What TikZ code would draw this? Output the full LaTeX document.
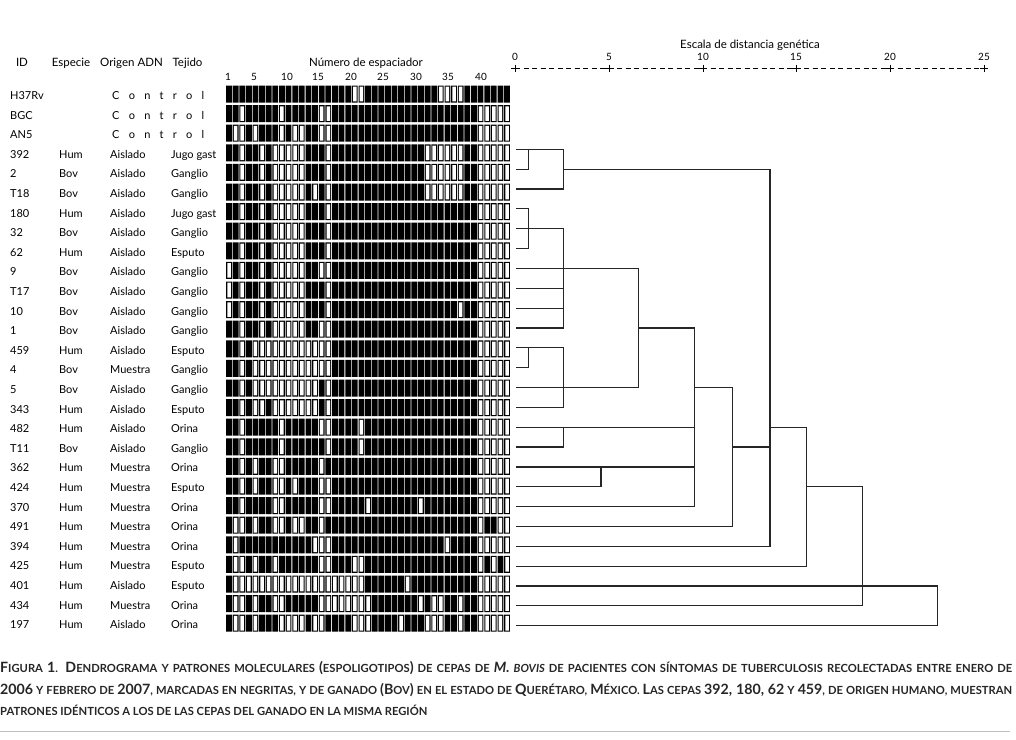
\documentclass[tikz,border=0pt]{standalone}
\usepackage{fontspec}
\setmainfont{Lato}
\newcommand\sprow[2]{%
  \fill[black] \foreach \k in {1,...,43} {({229+6.62*(\k-1)-2.9},{94+19.6*#1-8.5}) rectangle ++(5.8,17)};
  \fill[white] \foreach \k in {#2} {({229+6.62*(\k-1)-1.75},{94+19.6*#1-7.3}) rectangle ++(3.5,14.6)};
}
\newcommand\Bc[1]{{\fontsize{14.2}{15}\selectfont #1}}
\begin{document}
\begin{tikzpicture}[x=1pt,y=-1pt,
  lab/.style={font=\fontsize{11}{12}\selectfont, anchor=base west, inner sep=0},
  hdr/.style={font=\fontsize{11.5}{12}\selectfont, anchor=base, inner sep=0},
  num/.style={font=\fontsize{10}{11}\selectfont, anchor=base, inner sep=0},
  captxt/.style={font=\fontsize{11.2}{12}\selectfont\bfseries, anchor=base west, inner sep=0, text=black!85},
  dend/.style={line width=1.2pt, draw=black!85}]
\useasboundingbox (0,0) rectangle (1016,739);
% headers
\node[hdr] (hID) at (22,66) {ID};
\node[hdr] (hEsp) at (71,66) {Especie};
\node[hdr] (hOri) at (131.5,66) {Origen ADN};
\node[hdr] (hTej) at (187.5,66) {Tejido};
\node[hdr] (hNum) at (366,66) {Número de espaciador};
\foreach \n/\x in {1/228,5/254,10/287,15/318,20/351,25/383,30/416,35/448,40/481}
  \node[num] (sn\n) at (\x,80) {\n};
% scale
\node[hdr] (hEsc) at (750,48) {Escala de distancia genética};
\draw[line width=0.9pt, dash pattern=on 5pt off 3.5pt] (515,68) -- (984,68);
\foreach \v/\x in {0/515,5/609,10/703,15/796,20/890,25/984} {
  \node[num] (sc\v) at (\x,60) {\v};
  \draw[line width=1pt] (\x-4,68) -- (\x+4,68) (\x,64.5) -- (\x,71.5);
}
% control rows
\foreach \i/\id in {0/H37Rv,1/BGC,2/AN5} {
  \node[lab] (id\i) at (10,{95+19.6*\i+4.5}) {\id};
  \node[lab] (ct\i) at (112,{95+19.6*\i+4.5}) {\makebox[92pt][s]{C o n t r o l}};
}
% data rows
\foreach \i/\id/\sp/\org/\tej in {
  3/392/Hum/Aislado/Jugo gast, 4/2/Bov/Aislado/Ganglio, 5/T18/Bov/Aislado/Ganglio,
  6/180/Hum/Aislado/Jugo gast, 7/32/Bov/Aislado/Ganglio, 8/62/Hum/Aislado/Esputo,
  9/9/Bov/Aislado/Ganglio, 10/T17/Bov/Aislado/Ganglio, 11/10/Bov/Aislado/Ganglio,
  12/1/Bov/Aislado/Ganglio, 13/459/Hum/Aislado/Esputo, 14/4/Bov/Muestra/Ganglio,
  15/5/Bov/Aislado/Ganglio, 16/343/Hum/Aislado/Esputo, 17/482/Hum/Aislado/Orina,
  18/T11/Bov/Aislado/Ganglio, 19/362/Hum/Muestra/Orina, 20/424/Hum/Muestra/Esputo,
  21/370/Hum/Muestra/Orina, 22/491/Hum/Muestra/Orina, 23/394/Hum/Muestra/Orina,
  24/425/Hum/Muestra/Esputo, 25/401/Hum/Aislado/Esputo, 26/434/Hum/Muestra/Orina,
  27/197/Hum/Aislado/Orina} {
  \node[lab] (id\i) at (10,{95+19.6*\i+4.5}) {\id};
  \node[lab] (es\i) at (59,{95+19.6*\i+4.5}) {\sp};
  \node[lab] (or\i) at (110,{95+19.6*\i+4.5}) {\org};
  \node[lab] (tj\i) at (171,{95+19.6*\i+4.5}) {\tej};
}
% spoligotypes
\sprow{0}{20,21,33,34,35,36}
\sprow{1}{3,9,15,16,39,40,41,42,43}
\sprow{2}{2,3,5,9,11,12,15,16,39,40,41,42,43}
\sprow{3}{3,6,8,9,10,11,12,16,31,32,33,34,35,36,39,40,41,42,43}
\sprow{4}{3,6,8,9,10,11,12,16,31,32,33,34,35,36,39,40,41,42,43}
\sprow{5}{3,6,8,9,10,11,12,14,16,31,32,33,34,35,36,39,40,41,42,43}
\sprow{6}{3,6,8,9,10,11,12,16,39,40,41,42,43}
\sprow{7}{3,6,8,9,10,11,12,16,39,40,41,42,43}
\sprow{8}{3,6,8,9,10,11,12,16,39,40,41,42,43}
\sprow{9}{1,3,6,8,9,10,11,12,15,16,39,40,41,42,43}
\sprow{10}{1,3,6,8,9,10,11,12,16,39,40,41,42,43}
\sprow{11}{1,3,6,8,9,10,11,12,16,36,39,40,41,42,43}
\sprow{12}{3,6,8,9,10,11,12,15,16,39,40,41,42,43}
\sprow{13}{3,5,6,7,8,9,10,11,12,13,14,15,16,39,40,41,42,43}
\sprow{14}{3,5,6,7,8,9,10,11,12,13,14,15,16,39,40,41,42,43}
\sprow{15}{3,5,6,7,8,9,10,11,12,13,14,16,39,40,41,42,43}
\sprow{16}{3,5,6,8,9,10,11,12,13,14,16,39,40,41,42,43}
\sprow{17}{3,9,15,16,21,39,40,41,42,43}
\sprow{18}{3,9,16,21,39,40,41,42,43}
\sprow{19}{3,5,8,9,15,39,40,41,42,43}
\sprow{20}{3,5,8,9,11,15,16,39,40,41,42,43}
\sprow{21}{3,8,9,15,16,22,30,39,40,41,42,43}
\sprow{22}{2,3,5,8,9,11,12,15,39,42,43}
\sprow{23}{2,14,15,16,34,39,40,41,42,43}
\sprow{24}{2,3,5,8,15,16,20,21,39,41,43}
\sprow{25}{2,3,4,5,6,7,8,9,10,11,12,13,14,15,16,17,18,19,20,21,28,39,40,41,42,43}
\sprow{26}{2,3,5,8,9,15,16,17,18,19,20,21,22,30,32,33,36,39,40,41,42,43}
\sprow{27}{2,3,5,9,10,11,12,14,15,20,21,22,27,31,32,33,36,39,40,41,42,43}
% dendrogram
\foreach \j in {1,...,25} \coordinate (L\j) at (516,{149.3+19.85*(\j-1)});
\coordinate (xa) at (528.3,0); \coordinate (xb) at (563.7,0);
\coordinate (xc) at (601,0);   \coordinate (xd) at (638.7,0);
\coordinate (xe) at (694.7,0); \coordinate (xf) at (732.7,0);
\coordinate (xg) at (770,0);   \coordinate (xh) at (806.7,0);
\coordinate (xi) at (862.7,0); \coordinate (xk) at (937.7,0);
\draw[dend] (L1) -- (L1 -| xb);
\draw[dend] (L1 -| xa) -- (L2 -| xa) -- (L2);
\draw[dend] (L1 -| xb) -- (L3 -| xb) -- (L3);
\draw[dend] (L2 -| xb) -- (L2 -| xg);
\draw[dend] (L4) -| (L6 -| xa) -- (L6);
\draw[dend] (L5) -- (L5 -| xb);
\draw[dend] (L5 -| xb) -- (L10 -| xb) -- (L10);
\draw[dend] (L7) -- (L7 -| xd);
\draw[dend] (L8) -- (L8 -| xb);
\draw[dend] (L9) -- (L9 -| xb);
\draw[dend] (L11) -- (L11 -| xb);
\draw[dend] (L11 -| xa) -- (L12 -| xa) -- (L12);
\draw[dend] (L11 -| xb) -- (L14 -| xb) -- (L14);
\draw[dend] (L13) -- (L13 -| xd);
\draw[dend] (L7 -| xd) -- (L13 -| xd);
\draw[dend] (L10 -| xd) -- (L10 -| xe);
\draw[dend] (L15) -- (L15 -| xe);
\draw[dend] (L15 -| xb) -- (L16 -| xb) -- (L16);
\draw[dend] (L17) -- (L17 -| xe);
\draw[dend] (L17 -| xc) -- (L18 -| xc) -- (L18);
\draw[dend] (L19) -- (L19 -| xe);
\draw[dend] (L10 -| xe) -- (L19 -| xe);
\draw[dend] (L13 -| xe) -- (L13 -| xf);
\draw[dend] (L13 -| xf) -- (L20 -| xf) -- (L20);
\draw[dend] (L16 -| xf) -- (L16 -| xg);
\draw[dend] (L2 -| xg) -- (L21 -| xg) -- (L21);
\draw[dend] (L15 -| xg) -- (L15 -| xh);
\draw[dend] (L15 -| xh) -- (L22 -| xh) -- (L22);
\draw[dend] (L18 -| xh) -- (L18 -| xi);
\draw[dend] (L18 -| xi) -- (L24 -| xi) -- (L24);
\draw[dend] (L23) -- (L23 -| xk) -- (L25 -| xk) -- (L25);
% caption
\node[captxt] (c1) at (0,672) {\makebox[1012pt][s]{\Bc{F}IGURA \Bc{1}. \Bc{D}ENDROGRAMA Y PATRONES MOLECULARES \Bc{(}ESPOLIGOTIPOS\Bc{)} DE CEPAS DE \Bc{\itshape M.} {\itshape BOVIS} DE PACIENTES CON SÍNTOMAS DE TUBERCULOSIS RECOLECTADAS ENTRE ENERO DE}};
\node[captxt] (c2) at (0,694) {\makebox[1012pt][s]{\Bc{2006} Y FEBRERO DE \Bc{2007}, MARCADAS EN NEGRITAS, Y DE GANADO \Bc{(B}OV\Bc{)} EN EL ESTADO DE \Bc{Q}UERÉTARO, \Bc{M}ÉXICO. \Bc{L}AS CEPAS \Bc{392,~180,~62} Y \Bc{459}, DE ORIGEN HUMANO, MUESTRAN}};
\node[captxt] (c3) at (0,715) {PATRONES IDÉNTICOS A LOS DE LAS CEPAS DEL GANADO EN LA MISMA REGIÓN};
\draw[black!25, line width=0.8pt] (0,731) -- (1010,731);
\end{tikzpicture}
\end{document}
